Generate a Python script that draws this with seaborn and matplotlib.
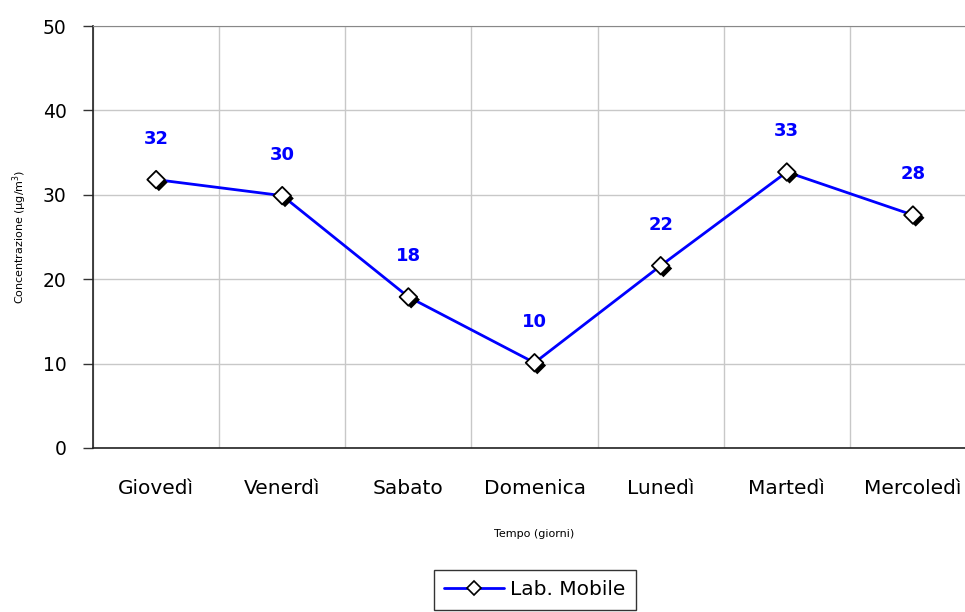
import pandas as pd
import matplotlib.pyplot as plt
import matplotlib.patheffects as pe
from matplotlib.lines import Line2D
import seaborn as sns

# Data
giorni = ["Giovedì", "Venerdì", "Sabato", "Domenica", "Lunedì", "Martedì", "Mercoledì"]
concentrazione = [31.8, 29.9, 17.9, 10.1, 21.6, 32.7, 27.6]
etichette = ["32", "30", "18", "10", "22", "33", "28"]

df = pd.DataFrame({"Giorno": giorni, "Conc": concentrazione})
df["Pos"] = range(len(giorni))

sns.set_style("white")
plt.rcParams["font.family"] = ["DejaVu Sans"]
plt.rcParams["text.color"] = "black"
plt.rcParams["axes.labelcolor"] = "black"
plt.rcParams["xtick.labelcolor"] = "black"
plt.rcParams["ytick.labelcolor"] = "black"

fig = plt.figure(figsize=(9.65, 6.12), dpi=100)
ax = fig.add_axes([0.0964, 0.268, 0.915, 0.6895])

sns.lineplot(data=df, x="Pos", y="Conc", color="#0000FF", linewidth=2.0, ax=ax, zorder=3)
sns.scatterplot(
    data=df, x="Pos", y="Conc", marker="D", s=80,
    color="white", edgecolor="black", linewidth=1.3, ax=ax, zorder=4,
    path_effects=[pe.SimplePatchShadow(offset=(2, -2), shadow_rgbFace="black", alpha=1), pe.Normal()],
)

for x, y, t in zip(df["Pos"], df["Conc"], etichette):
    ax.annotate(t, (x, y), xytext=(0, 41), textcoords="offset pixels",
                ha="center", va="center", color="#0000FF", fontsize=13, fontweight="bold")

ax.set_xlim(-0.5, len(giorni) - 0.5)
ax.set_ylim(0, 50)
ax.set_yticks(range(0, 51, 10))
ax.set_xticks(df["Pos"])
ax.set_xticklabels(giorni)
ax.set_xticks([i - 0.5 for i in range(len(giorni) + 1)], minor=True)

ax.tick_params(axis="x", which="major", direction="in", length=5, width=1, color="#333333",
               labelsize=14.5, pad=22)
ax.tick_params(axis="x", which="minor", direction="out", length=6, width=1, color="#333333")
ax.tick_params(axis="y", which="major", direction="out", length=7, width=1, color="#333333",
               labelsize=13.5, pad=12, left=True)

ax.grid(True, which="minor", axis="x", color="#c8c8c8", linewidth=1)
ax.grid(True, which="major", axis="y", color="#c8c8c8", linewidth=1)
ax.set_axisbelow(True)

for s in ["left", "bottom"]:
    ax.spines[s].set_color("#222222")
    ax.spines[s].set_linewidth(1.2)
ax.spines["top"].set_color("#888888")
ax.spines["right"].set_color("#888888")

ax.set_xlabel("Tempo (giorni)", fontsize=8, labelpad=23)
ax.set_ylabel("Concentrazione (µg/m$^{3}$)", fontsize=8, labelpad=10)

handle = Line2D([], [], color="#0000FF", linewidth=2.0, marker="D", markersize=7.5,
                markerfacecolor="white", markeredgecolor="black", markeredgewidth=1.2)
leg = fig.legend([handle], ["Lab. Mobile"], loc="center", bbox_to_anchor=(0.554, 0.036),
                 fontsize=14.5, frameon=True, fancybox=False, edgecolor="black",
                 handlelength=3.0, handletextpad=0.3, borderpad=0.5, borderaxespad=0)
leg.get_frame().set_linewidth(1.0)

fig.savefig("out.png", dpi=100)
